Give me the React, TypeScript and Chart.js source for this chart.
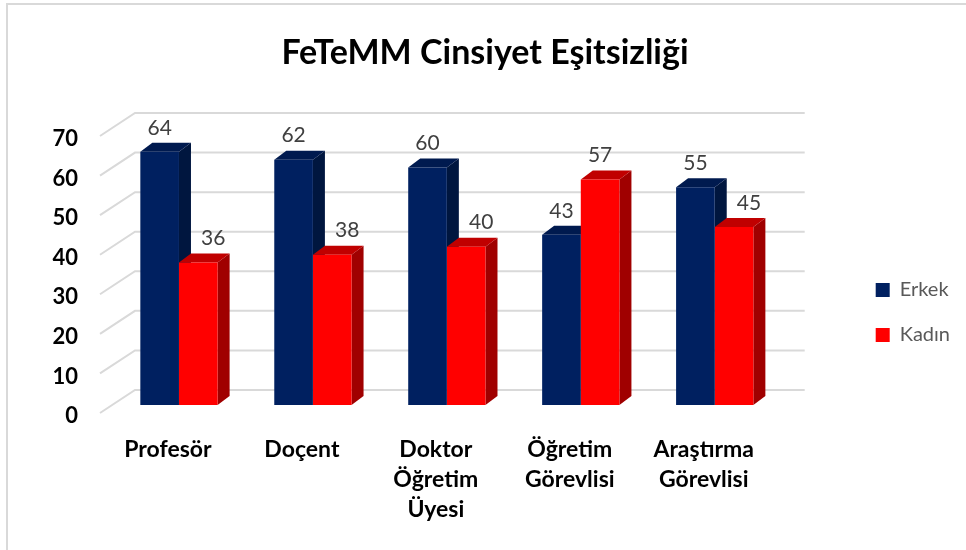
import React, { useEffect, useRef } from 'react';
import { Chart, registerables } from 'chart.js';

Chart.register(...registerables);

const categories: string[][] = [
  ['Profesör'],
  ['Doçent'],
  ['Doktor', 'Öğretim', 'Üyesi'],
  ['Öğretim', 'Görevlisi'],
  ['Araştırma', 'Görevlisi'],
];
const seriesNames = ['Erkek', 'Kadın'];
const erkekValues = [64, 62, 60, 43, 55];
const kadinValues = [36, 38, 40, 57, 45];
const yMin = 0;
const yMax = 70;
const yStep = 10;

const frontColors = ['#002060', '#ff0000'];
const sideColors = ['#00163f', '#a00000'];
const topColors = ['#001a4f', '#c00000'];

// 3D offsets (decorative depth)
const BAR_DX = 12;
const BAR_DY = -9;
const WALL_DX = 23;
const WALL_DY = -15;
const FRONT_DX = -12;
const FRONT_DY = 8;

const FONT = 'Lato, "Open Sans", sans-serif';

const depthPlugin = {
  id: 'depth3d',
  beforeDatasetsDraw(chart: any) {
    const { ctx, chartArea } = chart;
    const y = chart.scales.y;
    ctx.save();
    ctx.strokeStyle = '#d9d9d9';
    ctx.lineWidth = 2;
    y.ticks.forEach((t: any) => {
      const py = y.getPixelForValue(t.value);
      ctx.beginPath();
      ctx.moveTo(chartArea.left + FRONT_DX, py + FRONT_DY);
      ctx.lineTo(chartArea.left + WALL_DX, py + WALL_DY);
      ctx.lineTo(chartArea.right + WALL_DX, py + WALL_DY);
      ctx.stroke();
    });
    chart.data.datasets.forEach((_ds: any, i: number) => {
      const meta = chart.getDatasetMeta(i);
      meta.data.forEach((el: any) => {
        const { x, y: top, base, width } = el.getProps(['x', 'y', 'base', 'width'], true);
        const l = x - width / 2;
        const r = x + width / 2;
        ctx.fillStyle = sideColors[i];
        ctx.beginPath();
        ctx.moveTo(r, top);
        ctx.lineTo(r + BAR_DX, top + BAR_DY);
        ctx.lineTo(r + BAR_DX, base + BAR_DY);
        ctx.lineTo(r, base);
        ctx.closePath();
        ctx.fill();
        ctx.fillStyle = topColors[i];
        ctx.beginPath();
        ctx.moveTo(l, top);
        ctx.lineTo(l + BAR_DX, top + BAR_DY);
        ctx.lineTo(r + BAR_DX, top + BAR_DY);
        ctx.lineTo(r, top);
        ctx.closePath();
        ctx.fill();
      });
    });
    ctx.restore();
  },
  afterDatasetsDraw(chart: any) {
    const { ctx } = chart;
    ctx.save();
    ctx.font = `21px ${FONT}`;
    ctx.fillStyle = '#404040';
    ctx.textAlign = 'center';
    ctx.textBaseline = 'middle';
    const first = chart.data.datasets[0].data;
    chart.data.datasets.forEach((ds: any, i: number) => {
      const meta = chart.getDatasetMeta(i);
      meta.data.forEach((el: any, j: number) => {
        const { x, y: top } = el.getProps(['x', 'y'], true);
        // a shorter bar behind-right of a taller neighbour gets its label nudged right
        const shift = i > 0 && ds.data[j] < first[j] ? 15 : 0;
        ctx.fillText(String(ds.data[j]), x + shift, top - 24);
      });
    });
    ctx.restore();
  },
};

export default function App() {
  const canvasRef = useRef<HTMLCanvasElement | null>(null);

  useEffect(() => {
    const canvas = canvasRef.current;
    if (!canvas) return;
    const chart = new Chart(canvas, {
      type: 'bar',
      data: {
        labels: categories,
        datasets: [
          {
            label: seriesNames[0],
            data: erkekValues,
            backgroundColor: frontColors[0],
            borderWidth: 0,
          },
          {
            label: seriesNames[1],
            data: kadinValues,
            backgroundColor: frontColors[1],
            borderWidth: 0,
          },
        ],
      },
      options: {
        responsive: false,
        animation: false,
        devicePixelRatio: 1,
        layout: { padding: { top: 19, right: 6, bottom: 25, left: 10 } },
        datasets: {
          bar: { barPercentage: 1, categoryPercentage: 0.577 },
        },
        plugins: {
          title: {
            display: true,
            text: 'FeTeMM Cinsiyet Eşitsizliği',
            color: '#000000',
            font: { family: FONT, size: 34, weight: 'bold', lineHeight: 1.2 },
            padding: { top: 13.6, bottom: 54.6 },
          },
          legend: {
            display: true,
            position: 'right',
            align: 'center',
            title: {
              display: true,
              text: ' ',
              padding: 0,
              font: { family: FONT, size: 10, lineHeight: '81px' },
            },
            labels: {
              color: '#595959',
              font: { family: FONT, size: 20 },
              boxWidth: 14,
              boxHeight: 14,
              padding: 25,
            },
          },
          tooltip: { enabled: false },
        },
        scales: {
          x: {
            grid: { display: false, drawTicks: false },
            border: { display: false },
            ticks: {
              color: '#000000',
              font: { family: FONT, size: 23, weight: 'bold', lineHeight: '30px' },
              padding: 30,
              labelOffset: -11,
              autoSkip: false,
              maxRotation: 0,
              minRotation: 0,
            },
            afterFit: (s: any) => {
              s.height = 120;
            },
          },
          y: {
            min: yMin,
            max: yMax,
            grid: { display: false, drawTicks: false },
            border: { display: false },
            ticks: {
              stepSize: yStep,
              color: '#000000',
              font: { family: FONT, size: 22, weight: 'bold' },
              padding: 34,
              labelOffset: 11,
            },
            afterFit: (s: any) => {
              s.width = 102;
            },
          },
          gap: {
            type: 'linear',
            position: 'right',
            display: true,
            grid: { display: false, drawTicks: false },
            border: { display: false },
            ticks: { display: false },
            afterFit: (s: any) => {
              s.width = 69;
            },
          },
        },
      } as any,
      plugins: [depthPlugin],
    });
    return () => chart.destroy();
  }, []);

  return (
    <div style={{ position: 'absolute', left: 0, top: 0, width: 966, height: 550, overflow: 'hidden', background: '#ffffff' }}>
      <div
        style={{
          position: 'absolute',
          left: 6,
          top: 3,
          width: 1000,
          height: 600,
          borderTop: '2px solid #d9d9d9',
          borderLeft: '2px solid #d9d9d9',
          boxSizing: 'border-box',
        }}
      />
      <canvas ref={canvasRef} width={966} height={550} style={{ position: 'absolute', left: 0, top: 0 }} />
    </div>
  );
}
